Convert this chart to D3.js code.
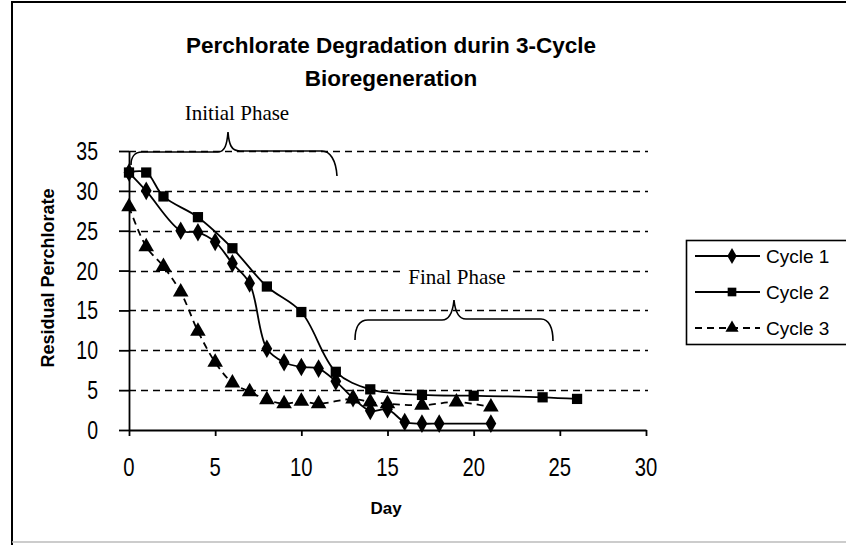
<!DOCTYPE html>
<html>
<head>
<meta charset="utf-8">
<script src="https://cdn.jsdelivr.net/npm/d3@7/dist/d3.min.js"></script>
<style>
  html, body { margin: 0; padding: 0; background: #fff; }
  svg { display: block; }
  text { fill: #000; }
</style>
</head>
<body>
<svg id="chart" width="846" height="545"></svg>
<script>
// Residual perchlorate per day for each bioregeneration cycle
const cycle1Days   = [0, 1, 3, 4, 5, 6, 7, 8, 9, 10, 11, 12, 13, 14, 15, 16, 17, 18, 21];
const cycle1Values = [32.3, 30.0, 25.0, 24.8, 23.6, 20.9, 18.4, 10.2, 8.5, 7.9, 7.7, 6.1, 4.0, 2.4, 2.6, 1.0, 0.8, 0.8, 0.8];

const cycle2Days   = [0, 1, 2, 4, 6, 8, 10, 12, 14, 17, 20, 24, 26];
const cycle2Values = [32.3, 32.3, 29.3, 26.7, 22.8, 18.0, 14.8, 7.3, 5.1, 4.4, 4.3, 4.1, 3.9];

const cycle3Days   = [0, 1, 2, 3, 4, 5, 6, 7, 8, 9, 10, 11, 13, 14, 15, 17, 19, 21];
const cycle3Values = [28.0, 23.0, 20.5, 17.3, 12.4, 8.5, 5.9, 4.8, 3.8, 3.3, 3.6, 3.3, 3.9, 3.5, 3.3, 3.1, 3.5, 2.9];

const seriesNames = ["Cycle 1", "Cycle 2", "Cycle 3"];
const xTicks = [0, 5, 10, 15, 20, 25, 30];
const yTicks = [0, 5, 10, 15, 20, 25, 30, 35];

const series = [
  { name: seriesNames[0], days: cycle1Days, values: cycle1Values, symbol: d3.symbolDiamond, size: 100, dash: null },
  { name: seriesNames[1], days: cycle2Days, values: cycle2Values, symbol: d3.symbolSquare, size: 105, dash: null },
  { name: seriesNames[2], days: cycle3Days, values: cycle3Values, symbol: d3.symbolTriangle, size: 105, dash: "7,5" }
];

const svg = d3.select("#chart");
const sans = "Liberation Sans, Arial, sans-serif";
const serif = "Liberation Serif, Times New Roman, serif";

// outer chart frame
svg.append("line").attr("x1", 12).attr("x2", 12).attr("y1", 1).attr("y2", 545)
  .attr("stroke", "#000").attr("stroke-width", 2);
svg.append("line").attr("x1", 12).attr("x2", 846).attr("y1", 2).attr("y2", 2)
  .attr("stroke", "#000").attr("stroke-width", 2);
svg.append("line").attr("x1", 12).attr("x2", 846).attr("y1", 542).attr("y2", 542)
  .attr("stroke", "#bbb").attr("stroke-width", 1.5);

const x = d3.scaleLinear().domain([0, 30]).range([129, 646]);
const y = d3.scaleLinear().domain([0, 35]).range([430, 151]);

// dashed horizontal gridlines
svg.append("g")
  .selectAll("line")
  .data(yTicks.filter(v => v > 0))
  .join("line")
  .attr("x1", x(0)).attr("x2", x(30) + 2)
  .attr("y1", d => Math.round(y(d)) + 0.5).attr("y2", d => Math.round(y(d)) + 0.5)
  .attr("stroke", "#000").attr("stroke-width", 1.6)
  .attr("stroke-dasharray", "7,5");

// axes
const xAxis = svg.append("g")
  .attr("transform", `translate(0,${y(0)})`)
  .call(d3.axisBottom(x).tickValues(xTicks).tickSize(6).tickSizeOuter(0).tickFormat(""));
const yAxis = svg.append("g")
  .attr("transform", `translate(${x(0)},0)`)
  .call(d3.axisLeft(y).tickValues(yTicks).tickSize(10).tickSizeOuter(0).tickFormat(""));
[xAxis, yAxis].forEach(g => {
  g.selectAll("path, line").attr("stroke", "#000").attr("stroke-width", 1.8);
});

// tick labels (condensed digits)
svg.append("g").selectAll("text")
  .data(xTicks).join("text")
  .attr("transform", d => `translate(${x(d)},476) scale(0.78,1)`)
  .attr("text-anchor", "middle")
  .attr("font-family", sans).attr("font-size", 26)
  .text(d => d);
svg.append("g").selectAll("text")
  .data(yTicks).join("text")
  .attr("transform", d => `translate(98,${y(d) + 9}) scale(0.78,1)`)
  .attr("text-anchor", "end")
  .attr("font-family", sans).attr("font-size", 25)
  .text(d => d);

// axis titles
svg.append("text")
  .attr("transform", "translate(54,278) rotate(-90)")
  .attr("text-anchor", "middle")
  .attr("font-family", sans).attr("font-weight", "bold").attr("font-size", 18)
  .text("Residual Perchlorate");
svg.append("text")
  .attr("x", 386).attr("y", 514)
  .attr("text-anchor", "middle")
  .attr("font-family", sans).attr("font-weight", "bold").attr("font-size", 17)
  .text("Day");

// chart title
const title = svg.append("text")
  .attr("text-anchor", "middle")
  .attr("font-family", sans).attr("font-weight", "bold").attr("font-size", 22.5);
title.append("tspan").attr("x", 391).attr("y", 53).text("Perchlorate Degradation durin 3-Cycle");
title.append("tspan").attr("x", 391).attr("y", 86).text("Bioregeneration");

// phase annotations (white backing so gridlines break around the labels)
function phaseLabel(cx, baseline, label) {
  const g = svg.append("g");
  const bg = g.append("rect").attr("fill", "#fff");
  const t = g.append("text")
    .attr("x", cx).attr("y", baseline).attr("text-anchor", "middle")
    .attr("font-family", serif).attr("font-size", 21)
    .text(label);
  const bb = t.node().getBBox();
  bg.attr("x", bb.x - 4).attr("y", bb.y).attr("width", bb.width + 8).attr("height", bb.height);
}
phaseLabel(237, 120, "Initial Phase");
phaseLabel(457, 284, "Final Phase");

const braceStyle = p => p.attr("fill", "none").attr("stroke", "#000").attr("stroke-width", 1.6);
svg.append("path")
  .attr("d", "M131,165 C131,158 134,152 142,152 L218,152 C225,152 227,144 228,132 C229,144 231,151 240,151 L322,151 C330,151 336,160 337,176")
  .call(braceStyle);
svg.append("path")
  .attr("d", "M355,340 C355,328 358,320 368,320 L442,320 C450,320 453,310 454,300 C455,310 458,319 466,319 L541,319 C549,319 553,328 553,341")
  .call(braceStyle);

// series lines and markers
const line = d3.line()
  .x(d => x(d[0])).y(d => y(d[1]))
  .curve(d3.curveCatmullRom.alpha(0.5));

series.forEach(s => {
  const pts = s.days.map((d, i) => [d, s.values[i]]);
  svg.append("path")
    .datum(pts)
    .attr("d", line)
    .attr("fill", "none").attr("stroke", "#000").attr("stroke-width", 1.8)
    .attr("stroke-dasharray", s.dash);
  svg.append("g").selectAll("path")
    .data(pts).join("path")
    .attr("transform", d => `translate(${x(d[0])},${y(d[1])})`)
    .attr("d", d3.symbol().type(s.symbol).size(s.size))
    .attr("fill", "#000");
});

// legend
const legend = svg.append("g");
legend.append("rect")
  .attr("x", 686.5).attr("y", 240.5).attr("width", 200).attr("height", 104)
  .attr("fill", "#fff").attr("stroke", "#000").attr("stroke-width", 1.6);
series.forEach((s, i) => {
  const ly = 256 + i * 36;
  legend.append("line")
    .attr("x1", 695).attr("x2", 760).attr("y1", ly).attr("y2", ly)
    .attr("stroke", "#000").attr("stroke-width", 1.8)
    .attr("stroke-dasharray", s.dash);
  legend.append("path")
    .attr("transform", `translate(732,${ly})`)
    .attr("d", d3.symbol().type(s.symbol).size(75))
    .attr("fill", "#000");
  legend.append("text")
    .attr("x", 766).attr("y", ly + 7)
    .attr("font-family", sans).attr("font-size", 19)
    .text(s.name);
});
</script>
</body>
</html>
